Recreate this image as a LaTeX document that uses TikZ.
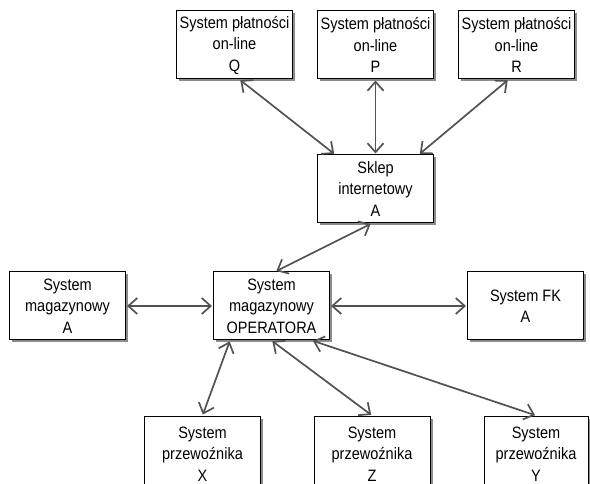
\documentclass[tikz,border=0pt]{standalone}
\usepackage{fontspec}
\setmainfont{Liberation Sans}[FakeStretch=0.88]
\usetikzlibrary{arrows.meta,shadows,calc}
\begin{document}
\begin{tikzpicture}[x=1pt,y=-1pt,
  sysbox/.style={draw=black, line width=1pt, fill=white,
    minimum width=116pt, minimum height=68pt, inner sep=0pt, align=center,
    font=\fontsize{16.5}{21.5}\selectfont,
    drop shadow={shadow xshift=2.5pt, shadow yshift=-2.5pt, fill=black!45, opacity=1}},
  link/.style={draw=black!68, line width=1.7pt,
    {Straight Barb[length=9pt,width=16pt]}-{Straight Barb[length=9pt,width=16pt]},
    shorten <=1pt, shorten >=1pt}]
\useasboundingbox (0,0) rectangle (590,484);

% payment systems
\node[sysbox] (Q) at (234.5,45) {System płatności\\on-line\\Q};
\node[sysbox] (P) at (375.5,45) {System płatności\\on-line\\P};
\node[sysbox] (R) at (516.5,45) {System płatności\\on-line\\R};

% online shop
\node[sysbox] (S) at (375.5,189) {Sklep\\internetowy\\A};

% warehouse systems and accounting
\node[sysbox] (MA) at (67.5,306) {System\\magazynowy\\A};
\node[sysbox] (OP) at (271.5,306) {System\\magazynowy\\OPERATORA};
\node[sysbox] (FK) at (525.5,306) {System FK\\A};

% carriers
\node[sysbox, minimum height=76pt] (X) at (202.5,454) {System\\przewoźnika\\X};
\node[sysbox, minimum height=76pt] (Z) at (372,454) {System\\przewoźnika\\Z};
\node[sysbox, minimum height=76pt, minimum width=104pt] (Y) at (536,454) {System\\przewoźnika\\Y};

% connections
\draw[link] ($(Q.south)+(5,0)$) -- ($(S.north west)+(18,0)$);
\draw[link] (P.south) -- (S.north);
\draw[link] ($(R.south)+(-8,0)$) -- ($(S.north east)+(-15,0)$);
\draw[link] ($(S.south)+(-4,0)$) -- ($(OP.north)+(4,0)$);
\draw[link] (MA) -- (OP);
\draw[link] (OP) -- (FK);
\draw[link] ($(OP.south west)+(17,0)$) -- (X.north);
\draw[link] (OP.south) -- (Z.north);
\draw[link] ($(OP.south east)+(-18,0)$) -- (Y.north);
\end{tikzpicture}
\end{document}
